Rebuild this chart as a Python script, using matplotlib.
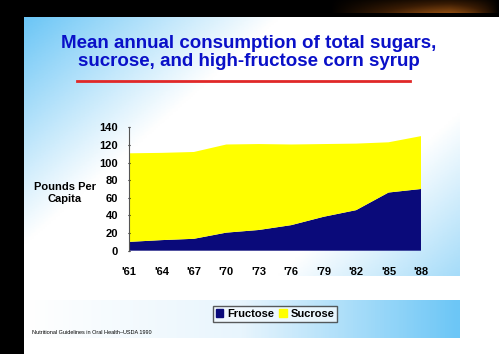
import numpy as np
import matplotlib
matplotlib.use("Agg")
import matplotlib.pyplot as plt
from matplotlib.colors import LinearSegmentedColormap
from matplotlib.patches import Rectangle

# donnees (livres par habitant)
years = ["'61", "'64", "'67", "'70", "'73", "'76", "'79", "'82", "'85", "'88"]
fructose = [10, 12, 13.5, 20.5, 23.5, 29, 38.5, 46, 66, 70]
total = [110.5, 111, 112, 120.5, 121, 120.5, 121, 121.5, 123, 130]
sucrose = [t - f for t, f in zip(total, fructose)]

W, H = 499, 354
narrow = ["DejaVu Sans Condensed", "Liberation Sans"]
fig = plt.figure(figsize=(W / 100, H / 100), dpi=100)
fig.patch.set_facecolor("white")

# fond du diaporama (coordonnees en pixels)
bg = fig.add_axes([0, 0, 1, 1])
bg.set_xlim(0, W)
bg.set_ylim(H, 0)
bg.axis("off")
bg.add_patch(Rectangle((0, 0), W, 17, color="black", lw=0))
bg.add_patch(Rectangle((0, 0), 24, H, color="black", lw=0))
# lueur orange en haut a droite
sw = np.linspace(0, 1, 200)
swoosh = np.outer(np.linspace(0.3, 1, 20), np.clip(sw * 1.4, 0, 1) * (1 - sw ** 6))
cm_sw = LinearSegmentedColormap.from_list("sw", ["black", "#3a1c04", "#8a4a10"])
bg.imshow(swoosh, extent=(330, 499, 13, 0), cmap=cm_sw, aspect="auto", zorder=1)

blue = "#6cc6f6"
cm1 = LinearSegmentedColormap.from_list(
    "g1", [(0, blue), (0.35, "white"), (0.75, "white"), (1, "#a6dcf9")])
xx, yy = np.meshgrid(np.linspace(0, 1, 200), np.linspace(0, 1, 200))
bg.imshow((xx * 0.6 + yy * 0.4), extent=(24, 460, 276, 17), cmap=cm1,
          aspect="auto", zorder=1)
cm2 = LinearSegmentedColormap.from_list("g2", ["white", "#e8f5fd", blue])
bg.imshow(xx[:20], extent=(24, 460, 338, 300), cmap=cm2, aspect="auto", zorder=1)

# titre
for txt, yp in [("Mean annual consumption of total sugars,", 44),
                ("sucrose, and high-fructose corn syrup", 62)]:
    fig.text(249 / W, 1 - yp / H, txt, ha="center", va="center", color="#0a10c8",
             fontsize=13.5, fontweight="bold", family="Liberation Sans")
bg.plot([77, 410], [80.5, 80.5], color="#e02828", lw=2, zorder=2)

# graphique principal
ax = fig.add_axes([129 / W, 1 - 250.7 / H, (421 - 129) / W, (250.7 - 127.3) / H])
x = np.arange(len(years))
ax.stackplot(x, fructose, sucrose, colors=["#0a0a7a", "#ffff00"], lw=0)
ax.set_xlim(0, len(years) - 1)
ax.set_ylim(0, 140)
ax.patch.set_alpha(0)
for s in ["top", "right", "bottom"]:
    ax.spines[s].set_visible(False)
ax.spines["left"].set_color("#555555")
ax.spines["left"].set_linewidth(0.8)
ax.set_yticks(range(0, 141, 20))
ax.set_xticks(x)
ax.set_xticklabels(years)
ax.tick_params(axis="y", length=2, pad=7, labelsize=8, direction="inout")
ax.tick_params(axis="x", length=0, pad=12, labelsize=8)
for lab in ax.get_xticklabels() + ax.get_yticklabels():
    lab.set_fontweight("bold")
    lab.set_family(narrow)
ax.set_ylabel("Pounds Per\nCapita", rotation=0, fontsize=8, fontweight="bold",
              family=narrow, va="center", ha="center")
ax.yaxis.set_label_coords(-0.22, 0.47)

# legende
leg = fig.legend(
    handles=[Rectangle((0, 0), 1, 1, color="#0a0a7a"), Rectangle((0, 0), 1, 1, color="#ffff00")],
    labels=["Fructose", "Sucrose"], loc="center", bbox_to_anchor=(275 / W, 1 - 314 / H),
    ncol=2, frameon=True, fancybox=False, edgecolor="#333333",
    handlelength=0.7, handleheight=0.7, handletextpad=0.3, columnspacing=0.5,
    borderpad=0.25, prop={"weight": "bold", "family": "Liberation Sans", "size": 8})
leg.get_frame().set_linewidth(1)
leg.get_frame().set_facecolor("#f4fbff")

fig.text(32 / W, 1 - 333 / H, "Nutritional Guidelines in Oral Health\u2013USDA 1990",
         fontsize=4, va="center", family="Liberation Sans")

fig.savefig("out.png", dpi=100)
